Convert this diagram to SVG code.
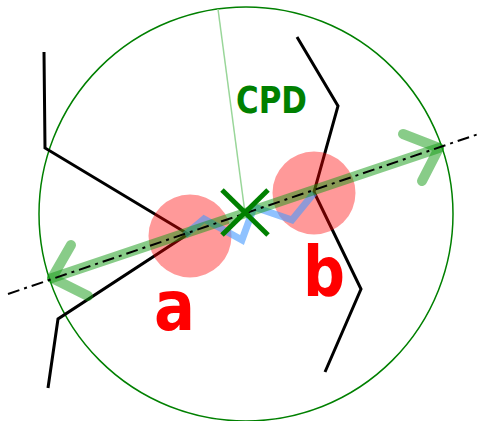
<svg xmlns="http://www.w3.org/2000/svg" width="477" height="421" viewBox="0 0 477 421">
<style>
.mol{fill:none;stroke:#000;stroke-width:3;stroke-linejoin:miter}
.lbl{font-family:"DejaVu Sans",sans-serif;font-weight:bold}
</style>
<rect width="477" height="421" fill="#fff"/>
<g id="sphere"><circle cx="246" cy="214" r="207" fill="none" stroke="#008000" stroke-width="1.5"/></g>
<g id="connectors">
<line x1="218" y1="9" x2="245" y2="213" stroke="#99d699" stroke-width="1.5"/>
</g>
<g id="mol-a"><polyline class="mol" points="44,52 45,148 188,234 58,319 48,388"/></g>
<g id="mol-b"><polyline class="mol" points="297,37 338,106 314,192 361,289 325,372"/></g>
<g id="atom-a"><circle cx="190" cy="236" r="41.5" fill="#ff0000" fill-opacity="0.4"/></g>
<g id="atom-b"><circle cx="314" cy="193" r="41.5" fill="#ff0000" fill-opacity="0.4"/></g>
<g id="path"><polyline points="185,235 204,219 242,240 254,207 292,220 314,193" fill="none" stroke="#4499ff" stroke-opacity="0.6" stroke-width="7" stroke-linejoin="miter"/></g>
<g id="axis">
<g stroke="#119911" stroke-opacity="0.5" stroke-width="10" stroke-linecap="round" stroke-linejoin="round" fill="none">
<line x1="52" y1="278" x2="439" y2="148"/>
<polyline points="71,245 52,278 88,296"/>
<polyline points="403,134 439,148 422,181"/>
</g>
<line x1="8" y1="294" x2="477" y2="134.5" stroke="#000" stroke-width="2" stroke-dasharray="12,5,3,5"/>
</g>
<g id="cpd">
<g stroke="#008000" stroke-width="5"><line x1="222" y1="190" x2="268" y2="235"/><line x1="268" y1="190" x2="222" y2="235"/></g>
<text class="lbl" x="236" y="113" font-size="37" fill="#008000" textLength="71" lengthAdjust="spacingAndGlyphs">CPD</text>
</g>
<g id="label-a"><text class="lbl" x="154" y="330" font-size="70" fill="#ff0000" textLength="41" lengthAdjust="spacingAndGlyphs">a</text></g>
<g id="label-b"><text class="lbl" x="303" y="296" font-size="70" fill="#ff0000" textLength="42" lengthAdjust="spacingAndGlyphs">b</text></g>
</svg>
